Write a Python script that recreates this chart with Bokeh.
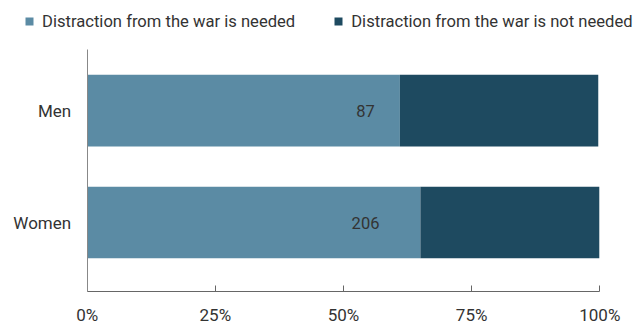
from bokeh.plotting import figure
from bokeh.models import ColumnDataSource, Range1d, FixedTicker, Legend, LegendItem
from bokeh.core.properties import value
from bokeh.embed import file_html
from bokeh.resources import INLINE

# ---- data ----
categories = ["Men", "Women"]
needed = [61.0, 65.0]
not_needed = [38.7, 34.9]
counts = ["87", "206"]
series_names = ["Distraction from the war is needed",
                "Distraction from the war is not needed"]
tick_values = [0, 25, 50, 75, 100]
tick_labels = ["0%", "25%", "50%", "75%", "100%"]

# ---- style ----
FONT = "Roboto"
C_NEEDED = "#5b8ba4"
C_NOT = "#1e4a60"
colors = [C_NEEDED, C_NOT]
TEXT = "#333333"
LABEL_X = 54.3
Y_LO, Y_HI = -0.613, 1.545          # plotted band of the category axis

ypos = [len(categories) - 1 - i for i in range(len(categories))]
src = ColumnDataSource(dict(
    y=ypos, cat=categories, needed=needed, not_needed=not_needed,
    counts=counts, lx=[LABEL_X] * len(categories)))

p = figure(width=642, height=330, output_backend="svg", toolbar_location=None,
           x_range=Range1d(-16.91, 108.33), y_range=Range1d(-0.964, 1.9825),
           min_border=0, min_border_left=0, min_border_right=0,
           min_border_top=0, min_border_bottom=0)
p.outline_line_color = None
p.xgrid.visible = False
p.ygrid.visible = False

rs = p.hbar_stack(["needed", "not_needed"], y="y", height=0.64,
                  color=colors, source=src, line_color=None)

p.text(x="lx", y="y", text="counts", source=src, text_align="center",
       text_baseline="middle", text_font=value(FONT), text_font_size="16.5px",
       text_color=TEXT)

xa = p.xaxis[0]
xa.fixed_location = Y_LO
xa.bounds = (tick_values[0], tick_values[-1])
xa.ticker = FixedTicker(ticks=tick_values)
xa.major_label_overrides = {v: l for v, l in zip(tick_values, tick_labels)}
xa.major_tick_in = 6
xa.major_tick_out = 0
xa.minor_tick_line_color = None
xa.axis_line_color = "#666666"
xa.major_tick_line_color = "#666666"
xa.major_label_text_font = FONT
xa.major_label_text_font_size = "17px"
xa.major_label_text_color = TEXT
xa.major_label_standoff = 14

ya = p.yaxis[0]
ya.fixed_location = 0
ya.bounds = (Y_LO, Y_HI)
ya.ticker = FixedTicker(ticks=ypos)
ya.major_label_overrides = {y: c for y, c in zip(ypos, categories)}
ya.major_tick_in = 0
ya.major_tick_out = 0
ya.minor_tick_line_color = None
ya.axis_line_color = "#888888"
ya.major_label_text_font = FONT
ya.major_label_text_font_size = "17px"
ya.major_label_text_color = TEXT
ya.major_label_standoff = 16

lg = Legend(items=[LegendItem(label=n, renderers=[r]) for n, r in zip(series_names, rs)])
lg.orientation = "horizontal"
lg.location = (24, 299)
lg.padding = 0
lg.margin = 0
lg.spacing = 38
lg.glyph_width = 10
lg.glyph_height = 10
lg.label_standoff = 8
lg.label_height = 20
lg.label_text_font = FONT
lg.label_text_font_size = "16.6px"
lg.label_text_color = TEXT
lg.border_line_color = None
lg.background_fill_alpha = 0
p.add_layout(lg, "center")

open("out.html", "w").write(file_html(p, INLINE))
